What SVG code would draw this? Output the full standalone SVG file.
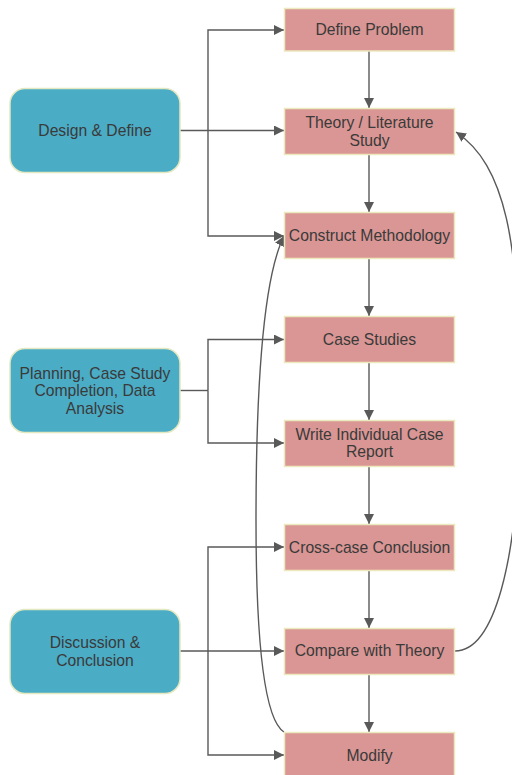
<svg xmlns="http://www.w3.org/2000/svg" width="512" height="775" viewBox="0 0 512 775">
<defs>
<marker id="ah" viewBox="0 0 10 10" refX="10" refY="5" markerWidth="10" markerHeight="10" markerUnits="userSpaceOnUse" orient="auto">
<path d="M0,0 L10,5 L0,10 z" fill="#595959"/>
</marker>
</defs>
<style>
.step{fill:#D99694;stroke:#ECE9BE;stroke-width:1.5}
.phase{fill:#4BACC6;stroke:#E3E8C0;stroke-width:1.5}
text{font-family:"Liberation Sans",Arial,sans-serif;font-size:15.7px;fill:#3a3a3a;text-anchor:middle;dominant-baseline:central}
.c{fill:none;stroke:#595959;stroke-width:1.4}
.a{marker-end:url(#ah)}
</style>
<rect width="512" height="775" fill="#ffffff"/>
<g id="connectors">
<path class="c a" d="M369,51 V108"/>
<path class="c a" d="M369,155 V212"/>
<path class="c a" d="M369,258 V316"/>
<path class="c a" d="M369,362 V420"/>
<path class="c a" d="M369,466 V524"/>
<path class="c a" d="M369,570 V628"/>
<path class="c a" d="M369,674 V732"/>
<path class="c a" d="M180,130.5 H284"/>
<path class="c a" d="M208,130.5 V30 H284"/>
<path class="c a" d="M208,130.5 V236 H284"/>
<path class="c" d="M180,390.5 H208"/>
<path class="c a" d="M208,390.5 V339.5 H284"/>
<path class="c a" d="M208,390.5 V443 H284"/>
<path class="c a" d="M180,651 H284"/>
<path class="c a" d="M208,651 V547 H284"/>
<path class="c a" d="M208,651 V755 H284"/>
<path class="c a" d="M455,651 C492,651 520,570 520,400 C520,240 505,165 456,132"/>
<path class="c a" d="M284,732 C265,720 256,650 256,520 C256,400 262,280 284,236"/>
</g>
<g id="n-design">
<rect class="phase" x="10" y="88.5" width="170" height="84" rx="15"/>
<text x="95" y="130.5">Design &amp; Define</text>
</g>
<g id="n-planning">
<rect class="phase" x="10" y="348.5" width="170" height="84" rx="15"/>
<text x="95" y="373.3">Planning, Case Study</text>
<text x="95" y="390.8">Completion, Data</text>
<text x="95" y="408.3">Analysis</text>
</g>
<g id="n-discussion">
<rect class="phase" x="10" y="609.5" width="170" height="84" rx="15"/>
<text x="95" y="642.3">Discussion &amp;</text>
<text x="95" y="660">Conclusion</text>
</g>
<g id="n-define">
<rect class="step" x="284.5" y="8.5" width="170" height="42.5"/>
<text x="369.5" y="29.5">Define Problem</text>
</g>
<g id="n-theory">
<rect class="step" x="284.5" y="108.5" width="170" height="46"/>
<text x="369.5" y="122.7">Theory / Literature</text>
<text x="369.5" y="140.7">Study</text>
</g>
<g id="n-method">
<rect class="step" x="284.5" y="212.5" width="170" height="46"/>
<text x="369.5" y="235.7">Construct Methodology</text>
</g>
<g id="n-cases">
<rect class="step" x="284.5" y="316.5" width="170" height="46"/>
<text x="369.5" y="339.3">Case Studies</text>
</g>
<g id="n-report">
<rect class="step" x="284.5" y="420.5" width="170" height="46"/>
<text x="369.5" y="434.3">Write Individual Case</text>
<text x="369.5" y="451.7">Report</text>
</g>
<g id="n-cross">
<rect class="step" x="284.5" y="524.5" width="170" height="46"/>
<text x="369.5" y="547">Cross-case Conclusion</text>
</g>
<g id="n-compare">
<rect class="step" x="284.5" y="628.5" width="170" height="46"/>
<text x="369.5" y="650.5">Compare with Theory</text>
</g>
<g id="n-modify">
<rect class="step" x="284.5" y="732.5" width="170" height="46"/>
<text x="369.5" y="755">Modify</text>
</g>
</svg>
